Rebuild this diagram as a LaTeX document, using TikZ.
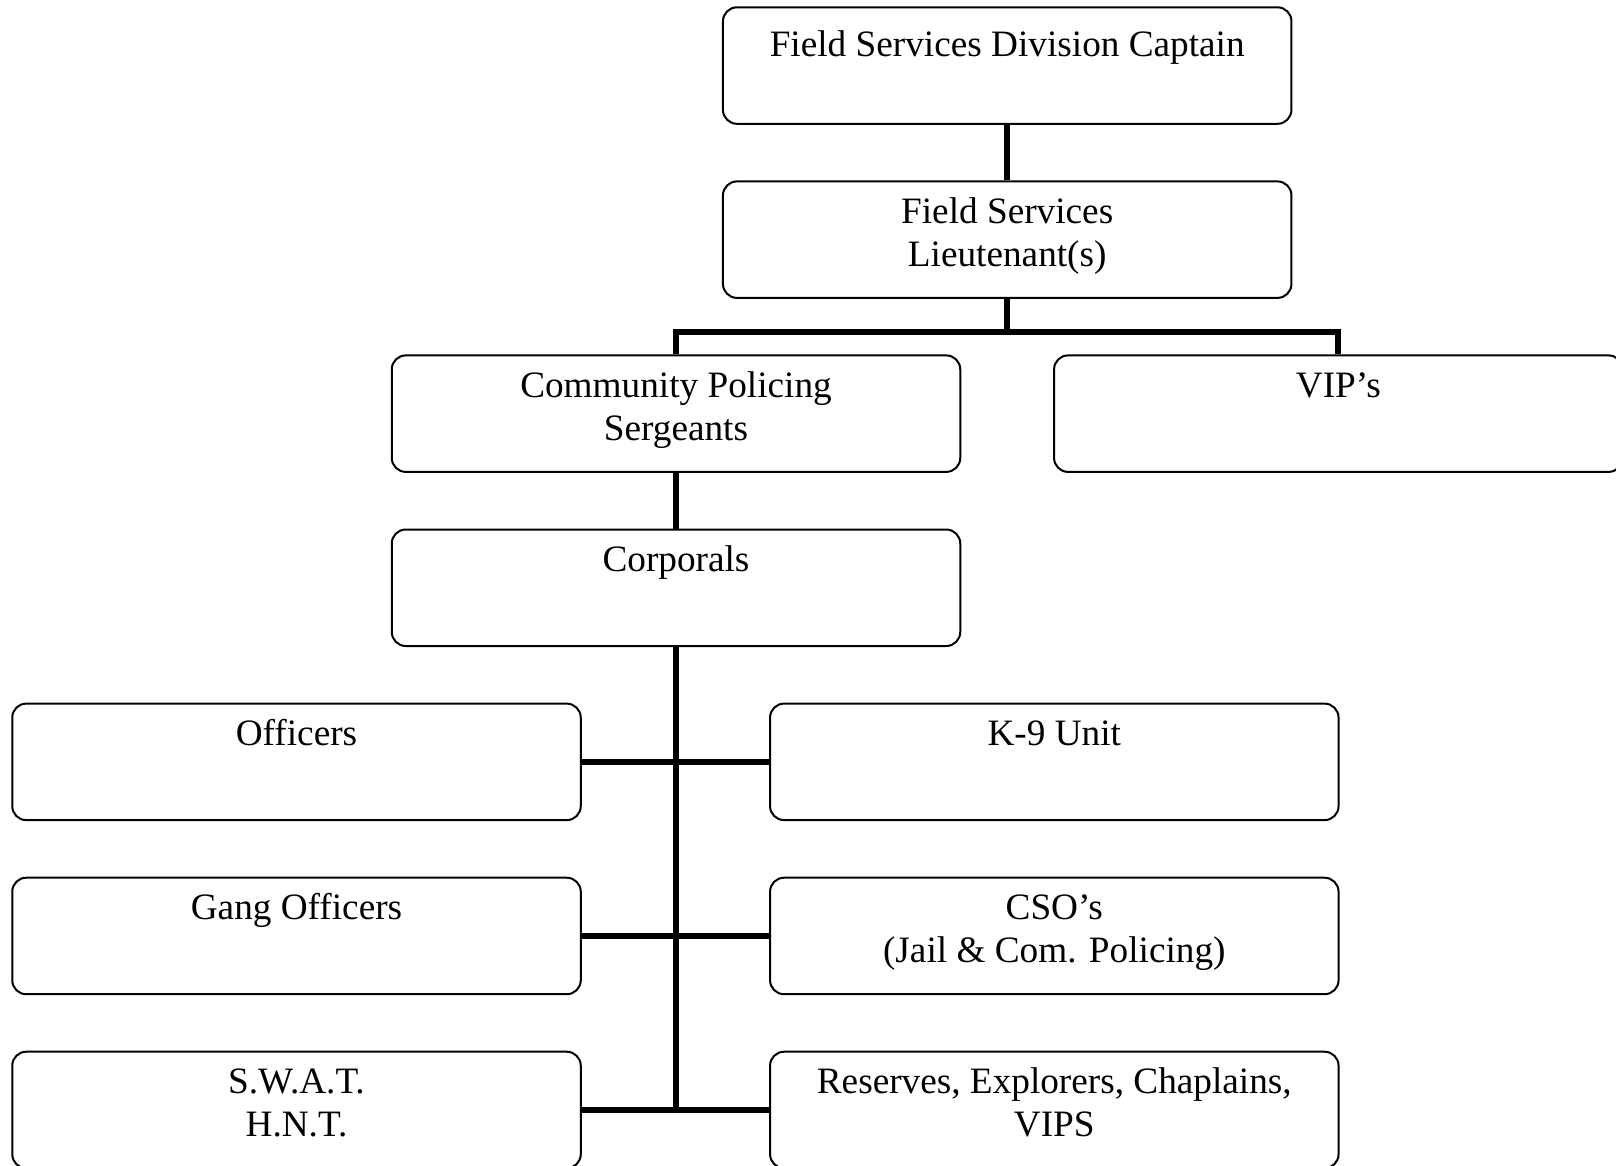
\documentclass[tikz,border=0pt]{standalone}
\usepackage{fontspec}
\setmainfont{Liberation Serif}
\begin{document}
\begin{tikzpicture}[x=1pt,y=-1pt,
  box/.style={draw, line width=2pt, rounded corners=14pt, minimum width=568.5pt, minimum height=116.5pt, inner sep=0pt},
  lbl/.style={anchor=north, inner sep=0pt, align=center, font=\fontsize{37.25pt}{43pt}\selectfont},
  conn/.style={line width=6pt}]
\useasboundingbox (0,0) rectangle (1616,1165);
\clip (0,0) rectangle (1616,1165);
% boxes
\node[box] (cap)  at (1007.2,65.55) {};
\node[box] (lt)   at (1007.2,239.65) {};
\node[box] (sgt)  at (676,413.65) {};
\node[box] (vip)  at (1338.3,413.65) {};
\node[box] (corp) at (676,587.75) {};
\node[box] (off)  at (296.5,761.85) {};
\node[box] (k9)   at (1054.3,761.85) {};
\node[box] (gang) at (296.5,935.95) {};
\node[box] (cso)  at (1054.3,935.95) {};
\node[box] (swat) at (296.5,1109.95) {};
\node[box] (res)  at (1054.3,1109.95) {};
% labels
\node[lbl] (tcap)  at ([yshift=-20.1pt]cap.north)  {\strut Field Services Division Captain};
\node[lbl] (tlt)   at ([yshift=-12.7pt]lt.north)   {\strut Field Services\\\strut Lieutenant(s)};
\node[lbl] (tsgt)  at ([yshift=-12.7pt]sgt.north)  {\strut Community Policing\\\strut Sergeants};
\node[lbl] (tvip)  at ([yshift=-12.7pt]vip.north)  {\strut VIP’s};
\node[lbl] (tcorp) at ([yshift=-12.7pt]corp.north) {\strut Corporals};
\node[lbl] (toff)  at ([yshift=-12.7pt]off.north)  {\strut Officers};
\node[lbl] (tk9)   at ([yshift=-12.7pt]k9.north)   {\strut K-9 Unit};
\node[lbl] (tgang) at ([yshift=-12.7pt]gang.north) {\strut Gang Officers};
\node[lbl] (tcso)  at ([yshift=-12.7pt]cso.north)  {\strut CSO’s\\\strut (Jail \& Com. Policing)};
\node[lbl] (tswat) at ([yshift=-12.7pt]swat.north) {\strut S.W.A.T.\\\strut H.N.T.};
\node[lbl] (tres)  at ([yshift=-12.7pt]res.north)  {\strut Reserves, Explorers, Chaplains,\\\strut VIPS};
% connectors
\coordinate (bus) at (1007.2,331.7);
\draw[conn] (cap.south) -- (lt.north);
\draw[conn] (lt.south) -- (bus);
\draw[conn] (sgt.north) |- (bus) -| (vip.north);
\draw[conn] (sgt.south) -- (corp.north);
\draw[conn] (corp.south) -- (corp.south |- swat.east);
\draw[conn] (off.east) -- (k9.west);
\draw[conn] (gang.east) -- (cso.west);
\draw[conn] (swat.east) -- (res.west);
\end{tikzpicture}
\end{document}
